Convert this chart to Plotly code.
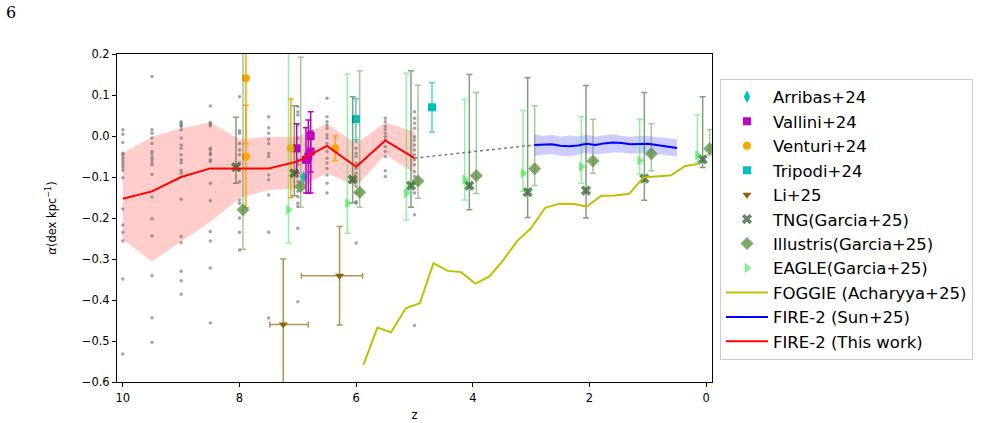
import plotly.graph_objects as go

# ---------------- data ----------------
# FIRE-2 (This work): median and 16-84 band
fire_z = [10, 9.5, 9, 8.5, 8, 7.5, 7, 6.5, 6, 5.5, 5]
fire_med = [-0.153, -0.135, -0.100, -0.079, -0.079, -0.079, -0.062, -0.024, -0.075, -0.011, -0.054]
fire_hi = [-0.042, -0.002, 0.019, 0.033, -0.008, -0.002, -0.002, 0.029, -0.018, 0.033, 0.011]
fire_lo = [-0.253, -0.306, -0.257, -0.209, -0.151, -0.132, -0.128, -0.090, -0.123, -0.046, -0.091]

# individual FIRE-2 galaxies (grey dots), per snapshot
gray_snap_z = [10, 9.5, 9, 8.5, 8, 7.5, 7, 6.5, 6, 5.5, 5]
gray_vals = [
    [0.015, 0.004, -0.016, -0.042, -0.045, -0.052, -0.058, -0.064, -0.071, -0.077, -0.084, -0.102, -0.178, -0.217, -0.235, -0.256, -0.349, -0.532],
    [0.145, 0.015, 0.007, -0.005, -0.018, -0.038, -0.044, -0.052, -0.058, -0.065, -0.071, -0.094, -0.149, -0.202, -0.243, -0.341, -0.443, -0.503],
    [0.035, 0.031, 0.027, 0.023, 0.015, -0.005, -0.022, -0.030, -0.046, -0.058, -0.065, -0.084, -0.091, -0.154, -0.245, -0.260, -0.330, -0.353, -0.386],
    [0.073, 0.033, 0.029, 0.025, -0.030, -0.034, -0.042, -0.046, -0.058, -0.062, -0.115, -0.158, -0.233, -0.256, -0.322, -0.456],
    [0.096, 0.013, 0.007, -0.018, -0.034, -0.046, -0.066, -0.083, -0.111, -0.156, -0.164, -0.200, -0.235, -0.278],
    [0.047, 0.020, 0.007, -0.008, -0.018, -0.042, -0.050, -0.095, -0.107, -0.144, -0.235, -0.444],
    [0.072, 0.059, 0.051, 0.027, -0.005, -0.026, -0.038, -0.058, -0.070, -0.111, -0.135, -0.148, -0.164, -0.172, -0.225, -0.404],
    [0.092, 0.047, 0.035, 0.027, 0.019, 0.003, -0.005, -0.018, -0.038, -0.054, -0.066, -0.079, -0.095, -0.115, -0.139],
    [-0.014, -0.030, -0.042, -0.050, -0.066, -0.079, -0.091, -0.107, -0.123, -0.139, -0.160, -0.164, -0.261],
    [0.043, 0.035, 0.023, 0.015, 0.007, -0.002, -0.010, -0.026, -0.038, -0.050, -0.085, -0.099],
    [0.059, 0.043, 0.031, 0.019, -0.002, -0.010, -0.022, -0.034, -0.046, -0.058, -0.070, -0.087, -0.099, -0.115, -0.139, -0.192, -0.462],
]

# dotted connector between the two FIRE-2 curves
conn_z = [5.0, 2.95]
conn_v = [-0.054, -0.022]

# FIRE-2 (Sun+25)
sun_z = [2.95, 2.8, 2.65, 2.5, 2.35, 2.2, 2.05, 1.9, 1.75, 1.6, 1.45, 1.3, 1.15, 1.0, 0.85, 0.7, 0.5]
sun_med = [-0.022, -0.021, -0.020, -0.024, -0.025, -0.023, -0.019, -0.022, -0.018, -0.016, -0.017, -0.020, -0.020, -0.019, -0.022, -0.025, -0.029]
sun_hi = [0.004, 0.000, 0.003, -0.002, 0.001, -0.001, 0.003, -0.001, 0.002, 0.004, 0.000, -0.002, 0.001, 0.000, -0.003, -0.004, -0.008]
sun_lo = [-0.048, -0.046, -0.044, -0.048, -0.050, -0.046, -0.042, -0.045, -0.042, -0.040, -0.040, -0.043, -0.042, -0.041, -0.044, -0.047, -0.050]

# FOGGIE (Acharyya+25)
foggie_z = [5.875, 5.635, 5.40, 5.15, 4.91, 4.675, 4.43, 4.20, 3.96, 3.72, 3.485, 3.245, 3.005, 2.76, 2.515, 2.27, 2.045, 1.80, 1.56, 1.32, 1.075, 0.845, 0.60, 0.36, 0.115]
foggie_v = [-0.558, -0.467, -0.479, -0.420, -0.408, -0.310, -0.329, -0.332, -0.360, -0.343, -0.304, -0.257, -0.225, -0.175, -0.165, -0.166, -0.172, -0.146, -0.145, -0.141, -0.101, -0.099, -0.096, -0.073, -0.068]

# Observations
arribas_z = [6.90]
arribas_v = [-0.100]

vallini_z = [7.02, 6.86, 6.82, 6.78, 6.78]
vallini_v = [-0.030, -0.058, -0.050, -0.038, 0.000]
vallini_ep = [0.060, 0.078, 0.089, 0.050, 0.059]
vallini_em = [0.060, 0.081, 0.089, 0.050, 0.139]

venturi_z = [7.89, 7.89, 7.12, 6.36]
venturi_v = [0.141, -0.050, -0.030, -0.030]
venturi_err = [0.160, 0.125, 0.120, 0.030]

tripodi_z = [6.005, 4.70]
tripodi_v = [0.041, 0.070]
tripodi_err = [0.050, 0.060]

li_z = [7.25, 6.285]
li_v = [-0.460, -0.341]
li_yerr = [0.160, 0.120]
li_xerr_p = [0.23, 0.655]
li_xerr_m = [0.43, 0.395]

tng_z = [8.06, 7.06, 6.06, 5.06, 4.06, 3.06, 2.06, 1.06, 0.06]
tng_v = [-0.076, -0.091, -0.106, -0.121, -0.121, -0.137, -0.133, -0.104, -0.057]
tng_hi = [0.046, 0.074, 0.096, 0.159, 0.150, 0.142, 0.123, 0.106, 0.096]
tng_lo = [-0.115, -0.146, -0.163, -0.174, -0.180, -0.199, -0.200, -0.157, -0.077]

ill_z = [7.94, 6.95, 5.94, 4.94, 3.94, 2.94, 1.94, 0.94, -0.06]
ill_v = [-0.180, -0.123, -0.137, -0.110, -0.097, -0.080, -0.061, -0.043, -0.031]
ill_hi = [0.260, 0.192, 0.159, 0.124, 0.106, 0.074, 0.041, 0.030, 0.016]
ill_lo = [-0.276, -0.174, -0.174, -0.152, -0.140, -0.121, -0.091, -0.085, -0.046]

eagle_z = [7.16, 6.15, 5.14, 4.14, 3.14, 2.14, 1.14, 0.15]
eagle_v = [-0.180, -0.164, -0.139, -0.106, -0.091, -0.075, -0.060, -0.047]
eagle_hi = [0.260, 0.151, 0.153, 0.089, 0.062, 0.047, 0.041, 0.051]
eagle_lo = [-0.261, -0.237, -0.205, -0.156, -0.135, -0.115, -0.093, -0.066]

x_ticks = [10, 8, 6, 4, 2, 0]
y_ticks = [0.2, 0.1, 0.0, -0.1, -0.2, -0.3, -0.4, -0.5, -0.6]
y_ticktext = ["0.2", "0.1", "0.0", "\u22120.1", "\u22120.2", "\u22120.3", "\u22120.4", "\u22120.5", "\u22120.6"]

# ---------------- figure ----------------
fig = go.Figure()
FONT = "DejaVu Sans"

# bands
fig.add_trace(go.Scatter(x=fire_z, y=fire_lo, mode="lines", line=dict(width=0),
                         showlegend=False, hoverinfo="skip"))
fig.add_trace(go.Scatter(x=fire_z, y=fire_hi, mode="lines", line=dict(width=0),
                         fill="tonexty", fillcolor="rgba(255,0,0,0.2)",
                         showlegend=False, hoverinfo="skip"))
fig.add_trace(go.Scatter(x=sun_z, y=sun_lo, mode="lines", line=dict(width=0),
                         showlegend=False, hoverinfo="skip"))
fig.add_trace(go.Scatter(x=sun_z, y=sun_hi, mode="lines", line=dict(width=0),
                         fill="tonexty", fillcolor="rgba(0,0,255,0.2)",
                         showlegend=False, hoverinfo="skip"))

# grey dots
gx, gy = [], []
for zz, vals in zip(gray_snap_z, gray_vals):
    for v in vals:
        gx.append(zz)
        gy.append(v)
fig.add_trace(go.Scatter(x=gx, y=gy, mode="markers",
                         marker=dict(size=3.5, color="rgba(105,105,105,0.6)"),
                         showlegend=False))

# dotted connector
fig.add_trace(go.Scatter(x=conn_z, y=conn_v, mode="lines",
                         line=dict(color="rgba(110,110,110,0.9)", width=1.5, dash="dot"),
                         showlegend=False))


def asym(vals, bounds_hi, bounds_lo):
    return [h - v for h, v in zip(bounds_hi, vals)], [v - l for v, l in zip(vals, bounds_lo)]


# Observations / simulations with error bars
fig.add_trace(go.Scatter(
    x=arribas_z, y=arribas_v, mode="markers", name="Arribas+24", legendrank=1,
    marker=dict(symbol="diamond-tall", size=9, color="#00BFBF")))

fig.add_trace(go.Scatter(
    x=vallini_z, y=vallini_v, mode="markers", name="Vallini+24", legendrank=2,
    marker=dict(symbol="square", size=8, color="#BF00BF"),
    error_y=dict(type="data", symmetric=False, array=vallini_ep, arrayminus=vallini_em,
                 color="#BF00BF", thickness=1.5, width=3)))

fig.add_trace(go.Scatter(
    x=venturi_z, y=venturi_v, mode="markers", name="Venturi+24", legendrank=3,
    marker=dict(symbol="circle", size=8, color="#FFA500"),
    error_y=dict(type="data", array=venturi_err, color="#FFA500", thickness=1.5, width=3)))

fig.add_trace(go.Scatter(
    x=tripodi_z, y=tripodi_v, mode="markers", name="Tripodi+24", legendrank=4,
    marker=dict(symbol="square", size=8, color="#00BFBF"),
    error_y=dict(type="data", array=tripodi_err, color="rgba(0,191,191,0.7)", thickness=1.5, width=3)))

fig.add_trace(go.Scatter(
    x=li_z, y=li_v, mode="markers", name="Li+25", legendrank=5,
    marker=dict(symbol="triangle-down", size=8, color="#8B6508"),
    error_y=dict(type="data", array=li_yerr, color="rgba(139,101,8,0.7)", thickness=1.5, width=3),
    error_x=dict(type="data", symmetric=False, array=li_xerr_p, arrayminus=li_xerr_m,
                 color="rgba(139,101,8,0.7)", thickness=1.5, width=3)))

tng_ep, tng_em = asym(tng_v, tng_hi, tng_lo)
fig.add_trace(go.Scatter(
    x=tng_z, y=tng_v, mode="markers", name="TNG(Garcia+25)", legendrank=6,
    marker=dict(symbol="x", size=9, color="rgba(47,95,47,0.75)"),
    error_y=dict(type="data", symmetric=False, array=tng_ep, arrayminus=tng_em,
                 color="rgba(47,95,47,0.6)", thickness=1.5, width=3)))

ill_ep, ill_em = asym(ill_v, ill_hi, ill_lo)
fig.add_trace(go.Scatter(
    x=ill_z, y=ill_v, mode="markers", name="Illustris(Garcia+25)", legendrank=7,
    marker=dict(symbol="diamond", size=10, color="rgba(85,140,60,0.75)"),
    error_y=dict(type="data", symmetric=False, array=ill_ep, arrayminus=ill_em,
                 color="rgba(85,140,60,0.5)", thickness=1.5, width=3)))

eag_ep, eag_em = asym(eagle_v, eagle_hi, eagle_lo)
fig.add_trace(go.Scatter(
    x=eagle_z, y=eagle_v, mode="markers", name="EAGLE(Garcia+25)", legendrank=8,
    marker=dict(symbol="triangle-right", size=9, color="rgba(60,230,80,0.65)"),
    error_y=dict(type="data", symmetric=False, array=eag_ep, arrayminus=eag_em,
                 color="rgba(60,230,80,0.55)", thickness=1.5, width=3)))

fig.add_trace(go.Scatter(
    x=foggie_z, y=foggie_v, mode="lines", name="FOGGIE (Acharyya+25)", legendrank=9,
    line=dict(color="#BFBF00", width=2)))

fig.add_trace(go.Scatter(
    x=sun_z, y=sun_med, mode="lines", name="FIRE-2 (Sun+25)", legendrank=10,
    line=dict(color="#0000FF", width=2)))

fig.add_trace(go.Scatter(
    x=fire_z, y=fire_med, mode="lines", name="FIRE-2 (This work)", legendrank=11,
    line=dict(color="#FF0000", width=2)))

fig.update_layout(
    width=981, height=423,
    margin=dict(l=117, r=269, t=54, b=41, autoexpand=False),
    paper_bgcolor="white", plot_bgcolor="white",
    font=dict(family=FONT, size=11.5, color="black"),
    showlegend=True,
    legend=dict(x=1.0134, y=0.925, xanchor="left", yanchor="top",
                font=dict(family=FONT, size=16.5, color="black"),
                bordercolor="#cccccc", borderwidth=1, bgcolor="white",
                itemwidth=42, traceorder="normal"),
    xaxis=dict(range=[10.1, -0.1], tickvals=x_ticks, ticktext=[str(t) for t in x_ticks],
               ticks="outside", ticklen=4, tickwidth=1, tickcolor="black",
               showline=True, linecolor="black", linewidth=1, mirror=True,
               showgrid=False, zeroline=False, ticklabelstandoff=1, automargin=False,
               title=dict(text="z", font=dict(size=11.5), standoff=7)),
    yaxis=dict(range=[-0.6, 0.2], tickvals=y_ticks, ticktext=y_ticktext,
               ticks="outside", ticklen=4, tickwidth=1, tickcolor="black",
               showline=True, linecolor="black", linewidth=1, mirror=True,
               showgrid=False, zeroline=False, automargin=False,
               title=dict(text="<i>α</i>(dex kpc<sup>−1</sup>)", font=dict(size=11.5), standoff=22)),
    annotations=[dict(text="6", x=(4 - 117) / 595, y=(382 - 12) / 328, xref="paper", yref="paper",
                      showarrow=False, xanchor="left", yanchor="middle",
                      font=dict(family="DejaVu Serif", size=16))],
)

fig.write_html("out.html")
